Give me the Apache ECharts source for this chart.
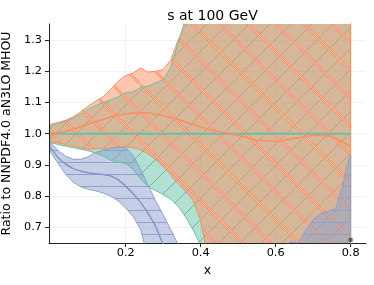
<!DOCTYPE html>
<html><head><meta charset="utf-8">
<script src="https://cdn.jsdelivr.net/npm/echarts@6/dist/echarts.min.js"></script>
<style>html,body{margin:0;padding:0;background:#fff}#c{width:374px;height:285px}</style>
</head><body><div id="c"></div>
<script>
const xs = [0, 0.02, 0.04, 0.06, 0.08, 0.1, 0.12, 0.14, 0.16, 0.18, 0.2, 0.22, 0.24, 0.26, 0.28, 0.3, 0.32, 0.34, 0.36, 0.38, 0.4, 0.42, 0.45, 0.5, 0.55, 0.6, 0.62, 0.64, 0.66, 0.68, 0.7, 0.72, 0.74, 0.76, 0.78, 0.79, 0.8];

// NNPDF4.0 aN3LO MHOU (reference, green)
const refCentral = [1,1,1,1,1,1,1,1,1,1,1,1,1,1,1,1,1,1,1,1,1,1,1,1,1,1,1,1,1,1,1,1,1,1,1,1,1];
const refUpper = [1.025, 1.032, 1.04, 1.05, 1.063, 1.078, 1.09, 1.1, 1.108, 1.118, 1.13, 1.134, 1.148, 1.152, 1.163, 1.172, 1.212, 1.29, 1.37, 1.43, 1.48, 1.52, 1.58, 1.65, 1.72, 1.8, 1.82, 1.85, 1.88, 1.9, 1.93, 1.96, 2.0, 2.05, 2.1, 2.12, 2.15];
const refLower = [0.972, 0.965, 0.96, 0.955, 0.95, 0.945, 0.938, 0.928, 0.915, 0.908, 0.905, 0.885, 0.855, 0.83, 0.818, 0.805, 0.79, 0.768, 0.733, 0.692, 0.642, 0.59, 0.53, 0.45, 0.4, 0.35, 0.33, 0.31, 0.3, 0.28, 0.26, 0.25, 0.23, 0.21, 0.19, 0.18, 0.17];

// orange set
const orCentral = [1.0, 1.003, 1.008, 1.015, 1.022, 1.03, 1.038, 1.046, 1.053, 1.059, 1.063, 1.066, 1.067, 1.066, 1.063, 1.058, 1.052, 1.045, 1.037, 1.029, 1.021, 1.014, 1.006, 0.994, 0.979, 0.975, 0.978, 0.983, 0.987, 0.991, 0.994, 0.995, 0.993, 0.985, 0.973, 0.966, 0.96];
const orUpper = [1.03, 1.036, 1.043, 1.054, 1.07, 1.088, 1.104, 1.118, 1.142, 1.168, 1.186, 1.194, 1.21, 1.197, 1.2, 1.205, 1.235, 1.3, 1.345, 1.41, 1.46, 1.5, 1.56, 1.64, 1.72, 1.8, 1.83, 1.86, 1.9, 1.93, 1.96, 2.0, 2.04, 2.08, 2.12, 2.14, 2.16];
const orLower = [0.975, 0.97, 0.965, 0.96, 0.955, 0.95, 0.951, 0.953, 0.955, 0.957, 0.958, 0.955, 0.948, 0.935, 0.917, 0.895, 0.868, 0.84, 0.815, 0.785, 0.72, 0.6, 0.52, 0.44, 0.38, 0.34, 0.32, 0.3, 0.29, 0.28, 0.27, 0.26, 0.25, 0.24, 0.23, 0.22, 0.21];

// blue set
const blCentral = [0.955, 0.922, 0.902, 0.888, 0.88, 0.875, 0.872, 0.869, 0.865, 0.853, 0.832, 0.808, 0.78, 0.745, 0.703, 0.645, 0.58, 0.52, 0.47, 0.43, 0.4, 0.38, 0.36, 0.35, 0.36, 0.4, 0.42, 0.44, 0.46, 0.48, 0.5, 0.52, 0.54, 0.56, 0.58, 0.6, 0.62];
const blUpper = [0.972, 0.945, 0.928, 0.918, 0.918, 0.926, 0.94, 0.947, 0.952, 0.958, 0.956, 0.93, 0.885, 0.835, 0.785, 0.74, 0.693, 0.645, 0.6, 0.58, 0.56, 0.55, 0.55, 0.56, 0.58, 0.62, 0.635, 0.655, 0.65, 0.69, 0.725, 0.745, 0.752, 0.76, 0.84, 0.9, 0.93];
const blLower = [0.94, 0.905, 0.87, 0.845, 0.83, 0.822, 0.817, 0.81, 0.8, 0.785, 0.762, 0.735, 0.693, 0.6, 0.5, 0.42, 0.36, 0.32, 0.28, 0.25, 0.23, 0.21, 0.2, 0.19, 0.19, 0.2, 0.21, 0.22, 0.23, 0.24, 0.25, 0.26, 0.27, 0.28, 0.29, 0.3, 0.3];

const markerX = [0.8];
const markerY = [0.66];

const xTicks = [0.2, 0.4, 0.6, 0.8];
const yTicks = [0.7, 0.8, 0.9, 1.0, 1.1, 1.2, 1.3];

const GREEN = '#66c2a5', ORANGE = '#fc8d62', BLUE = '#8da0cb';

function tile(size, fill, draw) {
  const c = document.createElement('canvas');
  c.width = size; c.height = size;
  const g = c.getContext('2d');
  g.fillStyle = fill; g.fillRect(0, 0, size, size);
  draw(g, size);
  return c;
}
const greenPat = tile(21, 'rgba(102,194,165,0.5)', (g, s) => {
  g.strokeStyle = 'rgba(40,110,80,0.45)'; g.lineWidth = 0.9;
  for (const k of [-s, 0, s]) { g.beginPath(); g.moveTo(k, s); g.lineTo(k + s, 0); g.stroke(); }
});
const orangePat = tile(28, 'rgba(252,141,98,0.5)', (g, s) => {
  for (const [w, col] of [[2.4, 'rgba(252,141,98,0.95)'], [0.8, 'rgba(255,215,195,0.9)']]) {
    g.strokeStyle = col; g.lineWidth = w;
    for (const k of [-s, 0, s]) { g.beginPath(); g.moveTo(k, 0); g.lineTo(k + s, s); g.stroke(); }
  }
});
const bluePat = tile(12, 'rgba(141,160,203,0.5)', (g, s) => {
  g.strokeStyle = 'rgba(141,160,203,0.95)'; g.lineWidth = 1;
  g.beginPath(); g.moveTo(0, 6.5); g.lineTo(s, 6.5); g.stroke();
});

const pairs = (ys) => xs.map((x, i) => [x, ys[i]]);
const last = xs.length - 1;

function bandFill(lower, upper, pat) {
  return {
    type: 'custom', clip: true, silent: true,
    data: [[xs[0], lower[0]]],
    renderItem: (params, api) => {
      const pts = [];
      for (let i = 0; i < xs.length; i++) pts.push(api.coord([xs[i], upper[i]]));
      for (let i = xs.length - 1; i >= 0; i--) pts.push(api.coord([xs[i], lower[i]]));
      return { type: 'polygon', shape: { points: pts }, style: { fill: { image: pat, repeat: 'repeat' }, stroke: null } };
    }
  };
}
function line(data, col, w) {
  return { type: 'line', data: data, showSymbol: false, symbol: 'none', lineStyle: { color: col, width: w }, silent: true };
}
function edges(lower, upper, col) {
  return [
    line(pairs(lower), col, 1), line(pairs(upper), col, 1),
    line([[xs[0], lower[0]], [xs[0], upper[0]]], col, 1),
    line([[xs[last], lower[last]], [xs[last], upper[last]]], col, 1)
  ];
}

const font = 'DejaVu Sans';
const chart = echarts.init(document.getElementById('c'), null, { renderer: 'canvas' });
chart.setOption({
  animation: false,
  backgroundColor: '#fff',
  title: { text: 's at 100 GeV', left: 207.5, top: 4, textAlign: 'center',
    textStyle: { fontFamily: font, fontSize: 14, fontWeight: 'normal', color: '#000' } },
  grid: { left: 49, right: 8, top: 24, bottom: 42, containLabel: false, outerBoundsMode: 'none' },
  xAxis: {
    type: 'value', min: -0.0045, max: 0.841,
    name: 'x', nameLocation: 'middle', nameGap: 19,
    nameTextStyle: { fontFamily: font, fontSize: 12.5, color: '#000' },
    axisLine: { show: true, onZero: false, lineStyle: { color: '#222', width: 1 } },
    axisTick: { show: true, customValues: xTicks, length: 4, lineStyle: { color: '#222', width: 1 } },
    axisLabel: { customValues: xTicks, formatter: v => v.toFixed(1), fontFamily: font, fontSize: 11.3, color: '#000', margin: 5 },
    splitLine: { show: true, lineStyle: { color: '#eeeeee', width: 0.8 } }
  },
  yAxis: {
    type: 'value', min: 0.65, max: 1.351,
    name: 'Ratio to NNPDF4.0 aN3LO MHOU', nameLocation: 'middle', nameGap: 31,
    nameTextStyle: { fontFamily: font, fontSize: 12.5, color: '#000' },
    axisLine: { show: true, onZero: false, lineStyle: { color: '#222', width: 1 } },
    axisTick: { show: true, customValues: yTicks, length: 4, lineStyle: { color: '#222', width: 1 } },
    axisLabel: { customValues: yTicks, formatter: v => v.toFixed(1), fontFamily: font, fontSize: 11.3, color: '#000', margin: 7 },
    splitLine: { show: true, lineStyle: { color: '#eeeeee', width: 0.8 } }
  },
  series: [
    bandFill(refLower, refUpper, greenPat),
    ...edges(refLower, refUpper, GREEN),
    bandFill(orLower, orUpper, orangePat),
    ...edges(orLower, orUpper, ORANGE),
    bandFill(blLower, blUpper, bluePat),
    ...edges(blLower, blUpper, BLUE),
    line(pairs(refCentral), GREEN, 2),
    line(pairs(orCentral), ORANGE, 1.6),
    line(pairs(blCentral), '#8396c6', 1.5),
    { type: 'scatter', data: markerX.map((x, i) => [x, markerY[i]]), symbol: 'rect', symbolSize: 4,
      itemStyle: { color: '#444' }, z: 10, silent: true }
  ]
});
</script>
</body></html>
